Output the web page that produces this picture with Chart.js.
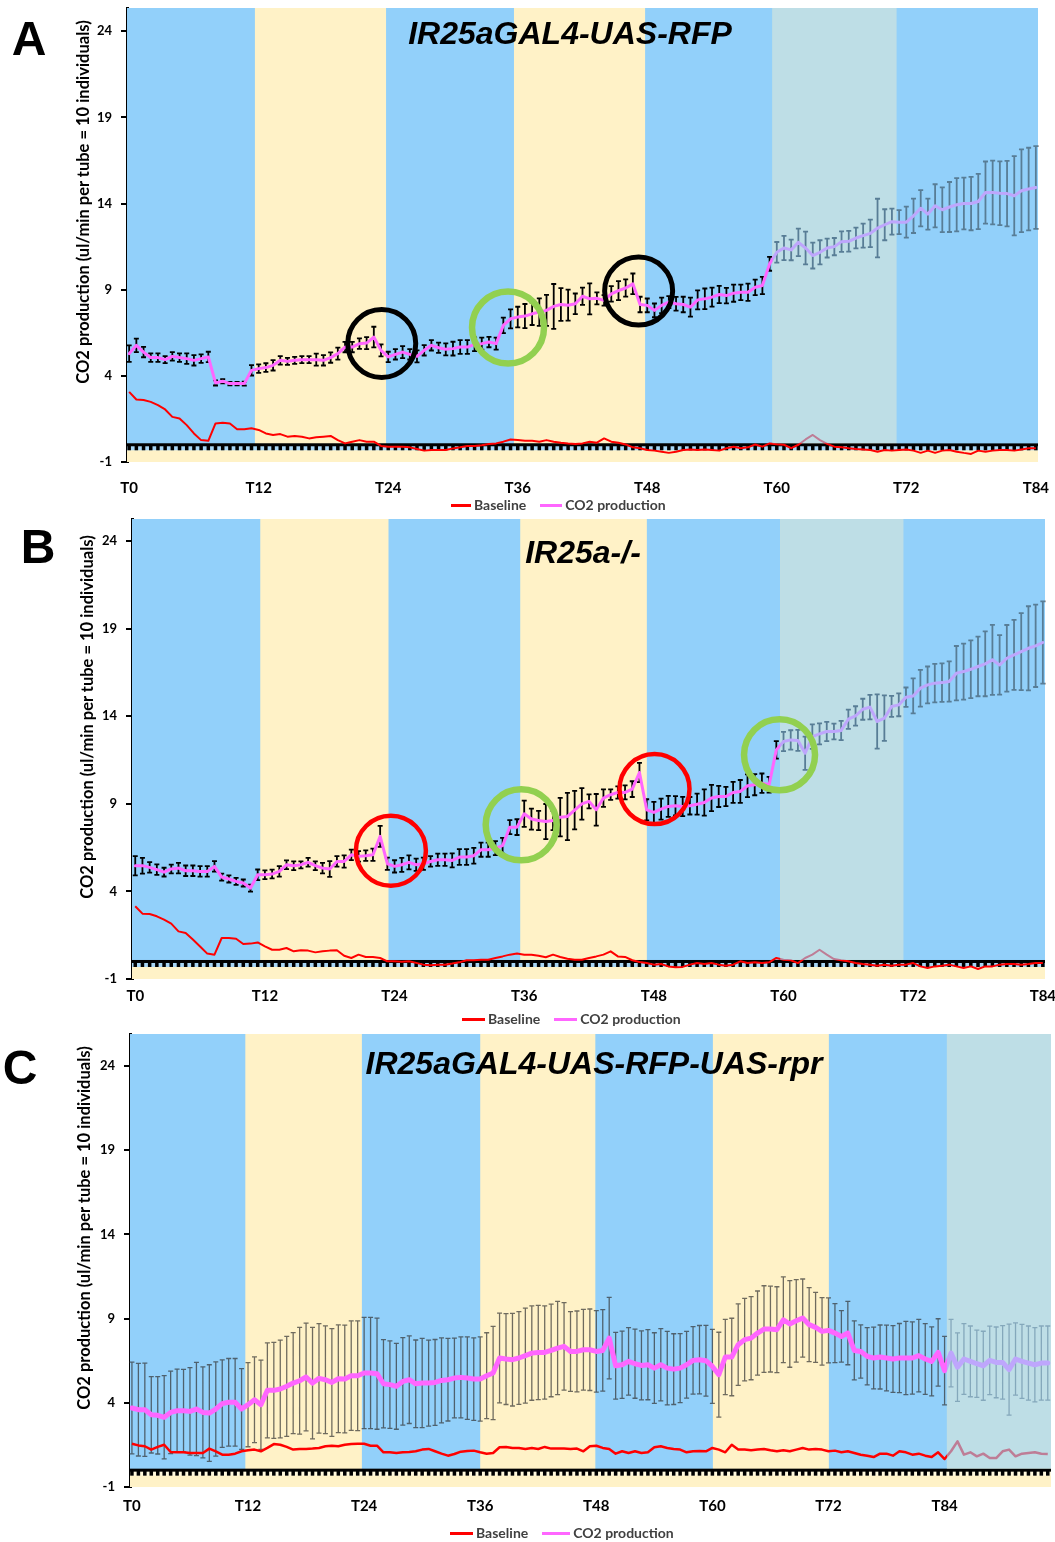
<!DOCTYPE html>
<html>
<head>
<meta charset="utf-8">
<script src="https://cdn.jsdelivr.net/npm/chart.js@4.4.1/dist/chart.umd.min.js"></script>
<style>
  body { margin: 0; background: #fff; width: 1055px; height: 1542px; position: relative; overflow: hidden; }
  canvas { position: absolute; left: 0; }
  .letter { position: absolute; font: bold 48px 'Liberation Sans', Arial, sans-serif; line-height: 1; transform: translate(-50%, -50%); }
  .title { position: absolute; font: italic bold 32px 'Liberation Sans', Arial, sans-serif; line-height: 1; white-space: nowrap; transform: translate(-50%, -50%); }
  .ytitle { position: absolute; font: bold 16.5px Lato, sans-serif; line-height: 1; white-space: nowrap; transform: translate(-50%, -50%) rotate(-90deg); }
  .legend { position: absolute; display: flex; align-items: center; font: bold 14px Lato, sans-serif; color: #404040; line-height: 1; white-space: nowrap; transform: translateY(-50%); }
  .legend i { display: inline-block; height: 3px; margin-right: 3px; }
  .legend span { margin-right: 14px; }
</style>
</head>
<body>
<canvas id="chartA" width="1055" height="500" style="top:0px"></canvas>
<canvas id="chartB" width="1055" height="500" style="top:512px"></canvas>
<canvas id="chartC" width="1055" height="500" style="top:1027px"></canvas>

<div class="letter" style="left:29px;top:39px">A</div>
<div class="letter" style="left:38px;top:547px">B</div>
<div class="letter" style="left:20px;top:1068px">C</div>

<div class="title" style="left:570px;top:33px">IR25aGAL4-UAS-RFP</div>
<div class="title" style="left:583px;top:552px">IR25a-/-</div>
<div class="title" style="left:594px;top:1063px">IR25aGAL4-UAS-RFP-UAS-rpr</div>

<div class="ytitle" style="left:83px;top:202px">CO2 production (ul/min per tube = 10 individuals)</div>
<div class="ytitle" style="left:87px;top:717px">CO2 production (ul/min per tube = 10 individuals)</div>
<div class="ytitle" style="left:84px;top:1228px">CO2 production (ul/min per tube = 10 individuals)</div>

<script>
// one reading every 40 min
const STEP_H = 2 / 3;
const X_TICKS = [0, 12, 24, 36, 48, 60, 72, 84];
const Y_TICKS = [-1, 4, 9, 14, 19, 24];
const SERIES = ['Baseline', 'CO2 production'];

// Panel A - IR25aGAL4-UAS-RFP
const A_CO2 = [
  5.29, 5.77, 5.38, 5.06, 5.06, 4.94, 5.13, 5.06, 5.0, 4.9,
  5.0, 5.1, 3.59, 3.69, 3.55, 3.55, 3.55, 4.32, 4.42, 4.48,
  4.61, 4.9, 4.84, 4.9, 4.94, 4.94, 4.94, 4.9, 5.06, 5.29,
  5.67, 5.67, 5.87, 5.9, 6.25, 5.48, 5.1, 5.25, 5.38, 5.25,
  5.13, 5.48, 5.77, 5.63, 5.54, 5.58, 5.67, 5.67, 5.83, 5.87,
  5.96, 5.87, 6.93, 7.31, 7.41, 7.47, 7.6, 7.7, 7.8, 8.03,
  8.14, 8.1, 8.18, 8.62, 8.47, 8.5, 8.38, 8.76, 8.95, 9.1,
  9.34, 8.14, 8.09, 7.8, 8.09, 8.28, 8.18, 8.14, 7.99, 8.41,
  8.47, 8.57, 8.72, 8.66, 8.8, 8.85, 8.85, 9.14, 9.24, 10.5,
  11.17, 11.42, 11.31, 11.75, 11.42, 10.98, 11.17, 11.42, 11.5, 11.79,
  11.81, 12.0, 12.14, 12.27, 12.58, 12.77, 12.95, 12.92, 12.92, 13.29,
  13.73, 13.39, 13.87, 13.64, 13.8, 13.93, 14.0, 14.0, 14.12, 14.64,
  14.64, 14.6, 14.58, 14.45, 14.74, 14.84, 14.93
];
const A_CO2_ERR = [
  0.48, 0.39, 0.3, 0.25, 0.25, 0.2, 0.25, 0.25, 0.3, 0.3,
  0.25, 0.3, 0.15, 0.12, 0.1, 0.1, 0.12, 0.3, 0.25, 0.25,
  0.3, 0.25, 0.2, 0.2, 0.2, 0.2, 0.35, 0.3, 0.3, 0.35,
  0.3, 0.3, 0.3, 0.35, 0.6, 0.35, 0.3, 0.3, 0.35, 0.3,
  0.35, 0.3, 0.3, 0.3, 0.35, 0.4, 0.4, 0.4, 0.4, 0.35,
  0.3, 0.35, 0.45, 0.55, 0.6, 0.7, 0.65, 0.8, 0.9, 1.3,
  0.95, 0.9, 0.6, 0.5, 0.9, 0.35, 0.3, 0.45, 0.55, 0.5,
  0.6, 0.45, 0.4, 0.4, 0.45, 0.35, 0.4, 0.45, 0.55, 0.55,
  0.6, 0.55, 0.5, 0.45, 0.5, 0.45, 0.5, 0.45, 0.5, 0.4,
  0.6, 0.7, 0.6, 0.8, 0.95, 0.75, 0.7, 0.55, 0.5, 0.6,
  0.6, 0.6, 0.7, 0.8, 1.7, 0.9, 0.75, 0.7, 0.9, 1.0,
  1.05, 0.9, 1.25, 1.3, 1.45, 1.55, 1.5, 1.55, 1.6, 1.8,
  1.85, 1.85, 1.9, 2.3, 2.4, 2.4, 2.4
];
const A_BASE = [
  3.07, 2.63, 2.6, 2.49, 2.3, 2.05, 1.62, 1.53, 1.14, 0.66,
  0.27, 0.23, 1.24, 1.28, 1.24, 0.9, 0.9, 0.96, 0.86, 0.66,
  0.57, 0.62, 0.47, 0.51, 0.47, 0.37, 0.43, 0.47, 0.51, 0.27,
  0.08, 0.18, 0.27, 0.18, 0.18, -0.07, -0.12, -0.12, -0.12, -0.15,
  -0.24, -0.34, -0.3, -0.3, -0.3, -0.21, -0.15, -0.07, -0.07, -0.03,
  0.05, 0.08, 0.18, 0.31, 0.27, 0.23, 0.23, 0.18, 0.27, 0.18,
  0.12, 0.08, 0.05, 0.08, 0.18, 0.12, 0.37, 0.18, 0.12, 0.02,
  -0.15, -0.2, -0.3, -0.34, -0.4, -0.47, -0.4, -0.3, -0.27, -0.3,
  -0.27, -0.3, -0.34, -0.2, -0.11, -0.2, -0.15, 0.02, -0.11, 0.08,
  0.03, 0.0, -0.2, 0.0, 0.31, 0.57, 0.27, 0.05, -0.11, -0.15,
  -0.2, -0.24, -0.27, -0.3, -0.4, -0.3, -0.34, -0.3, -0.27, -0.34,
  -0.47, -0.34, -0.47, -0.34, -0.3, -0.4, -0.47, -0.53, -0.34, -0.4,
  -0.34, -0.3, -0.3, -0.34, -0.27, -0.2, -0.2
];

// Panel B - IR25a-/-
const B_CO2 = [
  5.47, 5.47, 5.37, 5.24, 5.1, 5.28, 5.33, 5.18, 5.18, 5.14,
  5.14, 5.43, 4.82, 4.71, 4.57, 4.48, 4.19, 4.95, 4.95, 4.99,
  5.14, 5.52, 5.47, 5.52, 5.66, 5.47, 5.33, 5.28, 5.71, 5.71,
  6.09, 6.0, 6.04, 6.09, 7.14, 5.58, 5.43, 5.52, 5.66, 5.52,
  5.58, 5.71, 5.81, 5.81, 5.77, 5.96, 5.96, 6.04, 6.38, 6.38,
  6.47, 6.61, 7.67, 7.67, 8.43, 8.13, 8.05, 7.99, 8.05, 8.24,
  8.28, 8.64, 9.0, 9.14, 8.66, 9.33, 9.52, 9.65, 9.65, 9.84,
  10.79, 8.66, 8.51, 8.7, 8.85, 8.89, 8.85, 8.89, 8.98, 9.08,
  9.33, 9.42, 9.42, 9.65, 9.71, 10.03, 10.09, 10.18, 10.09, 12.08,
  12.56, 12.65, 12.62, 11.89, 12.84, 12.99, 13.13, 13.13, 13.19, 13.83,
  14.02, 14.4, 14.52, 13.7, 13.89, 14.56, 14.65, 15.09, 15.16, 15.6,
  15.79, 15.89, 15.92, 15.98, 16.46, 16.55, 16.68, 16.84, 16.99, 17.22,
  16.93, 17.31, 17.5, 17.69, 17.88, 18.02, 18.21
];
const B_CO2_ERR = [
  0.55, 0.45, 0.3, 0.3, 0.25, 0.25, 0.3, 0.3, 0.3, 0.3,
  0.3, 0.3, 0.2, 0.2, 0.2, 0.2, 0.2, 0.3, 0.25, 0.25,
  0.3, 0.25, 0.25, 0.2, 0.25, 0.25, 0.3, 0.45, 0.3, 0.35,
  0.3, 0.3, 0.3, 0.35, 0.6, 0.35, 0.35, 0.4, 0.4, 0.35,
  0.35, 0.3, 0.35, 0.35, 0.4, 0.45, 0.45, 0.45, 0.4, 0.4,
  0.4, 0.45, 0.4, 0.45, 0.75, 0.6, 0.55, 1.0, 0.55, 1.1,
  1.35, 1.1, 0.9, 0.4, 0.9, 0.5, 0.3, 0.35, 0.4, 0.45,
  0.55, 0.6, 0.6, 0.6, 0.6, 0.55, 0.55, 0.5, 0.6, 0.75,
  0.75, 0.6, 0.55, 0.6, 0.65, 0.65, 0.6, 0.55, 0.45, 0.5,
  0.55, 0.55, 0.6, 0.95, 0.7, 0.6, 0.55, 0.45, 0.55, 0.55,
  0.55, 0.6, 0.7, 1.55, 1.3, 0.6, 0.65, 0.55, 1.0, 1.05,
  1.05, 1.1, 1.1, 1.15, 1.55, 1.6, 1.65, 1.7, 1.85, 2.0,
  1.7, 1.9, 2.0, 2.2, 2.4, 2.35, 2.35
];
const B_BASE = [
  3.15, 2.73, 2.71, 2.58, 2.39, 2.16, 1.72, 1.63, 1.25, 0.86,
  0.45, 0.39, 1.34, 1.34, 1.3, 1.0, 1.02, 1.09, 0.86, 0.67,
  0.67, 0.77, 0.58, 0.64, 0.62, 0.52, 0.58, 0.62, 0.64, 0.33,
  0.2, 0.39, 0.26, 0.26, 0.2, 0.01, 0.01, -0.02, 0.01, -0.08,
  -0.18, -0.22, -0.18, -0.18, -0.12, -0.05, 0.07, 0.07, 0.1, 0.1,
  0.2, 0.29, 0.39, 0.45, 0.39, 0.39, 0.33, 0.24, 0.39, 0.26,
  0.16, 0.1, 0.1, 0.2, 0.29, 0.39, 0.58, 0.29, 0.26, 0.07,
  -0.03, -0.09, -0.18, -0.14, -0.28, -0.33, -0.31, -0.18, -0.09, -0.14,
  -0.09, -0.18, -0.24, -0.18, 0.01, -0.09, -0.05, -0.09, -0.05, 0.2,
  0.1, 0.07, -0.09, 0.2, 0.39, 0.67, 0.39, 0.14, 0.07, 0.01,
  -0.09, -0.14, -0.18, -0.24, -0.18, -0.24, -0.18, -0.18, -0.09, -0.28,
  -0.37, -0.28, -0.24, -0.18, -0.28, -0.37, -0.28, -0.43, -0.28, -0.28,
  -0.18, -0.14, -0.14, -0.18, -0.14, -0.09, -0.09
];

// Panel C - IR25aGAL4-UAS-RFP-UAS-rpr
const C_CO2 = [
  3.69, 3.59, 3.59, 3.29, 3.26, 3.14, 3.43, 3.53, 3.53, 3.49,
  3.63, 3.43, 3.39, 3.63, 3.95, 4.03, 4.03, 3.63, 3.89, 4.18,
  3.89, 4.74, 4.74, 4.82, 4.98, 5.17, 5.31, 5.53, 5.17, 5.45,
  5.37, 5.21, 5.43, 5.41, 5.61, 5.61, 5.77, 5.77, 5.73, 5.13,
  5.08, 4.98, 5.27, 5.37, 5.13, 5.17, 5.17, 5.21, 5.33, 5.37,
  5.47, 5.51, 5.47, 5.41, 5.41, 5.61, 5.77, 6.66, 6.6, 6.56,
  6.66, 6.8, 6.95, 6.99, 6.99, 7.11, 7.25, 7.35, 7.05, 7.05,
  7.15, 7.15, 7.05, 7.11, 7.84, 6.2, 6.26, 6.46, 6.32, 6.22,
  6.26, 6.06, 6.26, 6.06, 6.0, 6.06, 6.26, 6.52, 6.56, 6.5,
  6.16, 5.67, 6.72, 6.72, 7.45, 7.75, 7.84, 8.14, 8.38, 8.38,
  8.34, 8.93, 8.68, 8.87, 9.03, 8.64, 8.48, 8.24, 8.3, 8.14,
  7.94, 8.14, 7.11, 7.05, 6.76, 6.66, 6.72, 6.66, 6.6, 6.66,
  6.66, 6.66, 6.8, 6.6, 6.46, 6.99, 5.91, 6.95, 6.12, 6.6,
  6.46, 6.32, 6.2, 6.52, 6.4, 6.4, 5.97, 6.6, 6.46, 6.36,
  6.26, 6.36, 6.36
];
const C_CO2_ERR = [
  2.72, 2.75, 2.77, 2.27, 2.3, 2.47, 2.45, 2.47, 2.45, 2.6,
  2.77, 2.7, 2.87, 2.8, 2.6, 2.6, 2.6, 2.4, 2.5, 2.55,
  2.65, 2.82, 2.85, 2.9, 2.97, 3.0, 3.17, 3.2, 3.31, 3.25,
  3.2, 3.2, 3.2, 3.2, 3.25, 3.26, 3.3, 3.3, 3.3, 2.62,
  2.6, 2.55, 2.6, 2.6, 2.6, 2.65, 2.55, 2.55, 2.52, 2.45,
  2.37, 2.4, 2.45, 2.45, 2.5, 2.55, 2.77, 2.67, 2.7, 2.75,
  2.75, 2.82, 2.8, 2.8, 2.77, 2.75, 2.77, 2.6, 2.37, 2.4,
  2.4, 2.42, 2.42, 2.42, 2.42, 1.98, 2.0, 2.0, 2.05, 2.05,
  2.08, 2.1, 2.15, 2.18, 2.1, 2.05, 1.98, 2.0, 2.03, 2.1,
  2.2, 2.52, 2.23, 2.3, 2.42, 2.45, 2.47, 2.5, 2.57, 2.55,
  2.55, 2.55, 2.57, 2.45, 2.32, 2.2, 2.08, 2.0, 1.93, 1.75,
  1.53, 1.88, 1.75, 1.58, 1.7, 1.83, 1.9, 1.95, 1.98, 2.05,
  2.18, 2.15, 2.15, 2.1, 2.05, 2.0, 2.03, 2.0, 2.03, 2.1,
  2.1, 2.0, 2.05, 2.03, 2.1, 2.18, 2.7, 2.15, 2.2, 2.2,
  2.2, 2.2, 2.2
];
const C_BASE = [
  1.57, 1.47, 1.42, 1.22, 1.38, 1.51, 1.08, 1.06, 1.06, 1.02,
  1.02, 1.02, 1.28, 1.12, 0.92, 0.92, 0.98, 1.12, 1.18, 1.22,
  1.12, 1.32, 1.55, 1.51, 1.38, 1.22, 1.26, 1.26, 1.28, 1.32,
  1.42, 1.45, 1.42, 1.51, 1.55, 1.57, 1.57, 1.45, 1.45, 1.06,
  1.06, 1.02, 1.06, 1.08, 1.12, 1.22, 1.26, 1.12, 0.98, 0.86,
  0.96, 1.1, 1.14, 1.16, 1.06, 0.98, 1.02, 1.36, 1.38, 1.32,
  1.32, 1.26, 1.32, 1.26, 1.38, 1.28, 1.28, 1.28, 1.26, 1.28,
  1.12, 1.42, 1.45, 1.32, 1.26, 0.98, 1.12, 1.02, 1.12, 1.02,
  1.06, 1.36, 1.42, 1.32, 1.26, 1.22, 1.06, 1.12, 1.14, 1.12,
  1.32, 1.22, 1.06, 1.51, 1.22, 1.22, 1.18, 1.22, 1.26, 1.18,
  1.12, 1.18, 1.12, 1.22, 1.32, 1.22, 1.26, 1.22, 1.12, 1.16,
  1.06, 1.12, 1.02, 0.92, 0.86, 0.78, 0.98, 0.98, 0.86, 1.12,
  1.06, 0.92, 0.98, 0.86, 0.78, 1.06, 0.66, 1.12, 1.71, 0.92,
  1.06, 0.82, 0.98, 0.72, 0.72, 1.12, 1.22, 0.82, 0.98, 1.02,
  1.06, 0.98, 0.96
];

const BLUE = '#92d0fa';
const YELLOW = '#fff2c7';
const OVERLAY = 'rgba(146, 208, 250, 0.6)';
const PINK = '#ff66ff';
const RED = '#ff0000';
const GREEN = '#92d050';

const panels = [
  {
    id: 'chartA', co2: A_CO2, err: A_CO2_ERR, base: A_BASE,
    xMin: -0.2, xMax: 84.2, yMax: 25.35, yWidth: 127, padTop: 8, padRight: 17, xHeight: 38, xPad: 17,
    blue: [[-0.2, 11.65], [23.8, 35.65], [47.8, 59.6], [71.1, 84.2]], overlay: [59.6, 84.2],
    co2Width: 3, baseWidth: 2, errColor: '#000', errWidth: 1.8, strip: '#a8d6f5',
    circles: [
      { h: 23.4, v: 5.88, r: 34, w: 5, color: '#000' },
      { h: 35.1, v: 6.8, r: 36, w: 6.5, color: GREEN },
      { h: 47.2, v: 8.92, r: 34, w: 5, color: '#000' }
    ],
    legend: { left: 451, top: 505, lines: [20, 22] }
  },
  {
    id: 'chartB', co2: B_CO2, err: B_CO2_ERR, base: B_BASE,
    xMin: -0.3, xMax: 84.2, yMax: 25.26, yWidth: 132, padTop: 7, padRight: 10, xHeight: 33, xPad: 8,
    blue: [[-0.3, 11.57], [23.44, 35.63], [47.35, 59.69], [71.1, 84.2]], overlay: [59.69, 84.2],
    co2Width: 3, baseWidth: 2, errColor: '#000', errWidth: 1.8, strip: '#a8d6f5',
    circles: [
      { h: 23.66, v: 6.32, r: 35, w: 4.5, color: RED },
      { h: 35.72, v: 7.8, r: 35.5, w: 6.5, color: GREEN },
      { h: 48.06, v: 9.84, r: 35, w: 4.5, color: RED },
      { h: 59.63, v: 11.8, r: 35.5, w: 6.5, color: GREEN }
    ],
    legend: { left: 462, top: 1019, lines: [23, 23] }
  },
  {
    id: 'chartC', co2: C_CO2, err: C_CO2_ERR, base: C_BASE,
    xMin: -0.2, xMax: 95.0, yMax: 25.9, yWidth: 130, padTop: 7, padRight: 4, xHeight: 40, xPad: 10,
    blue: [[-0.2, 11.72], [23.77, 36.0], [47.9, 60.05], [72.04, 84.24]], overlay: [84.24, 95.0],
    co2Width: 5, baseWidth: 2.5, errColor: 'rgba(50, 50, 50, 0.7)', errWidth: 1.3, strip: '#fff8dc',
    circles: [],
    legend: { left: 450, top: 1533, lines: [23, 28] }
  }
];

// background phases, zero axis, error bars, grey overlay, circles
const panelPlugin = {
  id: 'panel',
  beforeDatasetsDraw(chart, args, opts) {
    const { ctx, chartArea: a, scales: { x, y } } = chart;
    const y0 = y.getPixelForValue(0);
    ctx.save();
    ctx.fillStyle = YELLOW;
    ctx.fillRect(a.left, a.top, a.width, a.height);
    ctx.fillStyle = BLUE;
    opts.blue.forEach(([s, e]) => {
      const xs = x.getPixelForValue(s), xe = x.getPixelForValue(e);
      ctx.fillRect(xs, a.top, xe - xs, y0 - a.top);
    });

    // horizontal axis at 0 with dense tick marks
    ctx.fillStyle = opts.strip;
    ctx.fillRect(a.left, y0, a.width, 5.5);
    ctx.fillStyle = '#000';
    ctx.fillRect(a.left, y0 - 1.5, a.width, 3);
    opts.co2.forEach((v, i) => {
      const px = x.getPixelForValue(i * STEP_H);
      ctx.fillRect(px - 1.75, y0, 3.5, 5.5);
    });

    // error bars
    ctx.strokeStyle = opts.errColor;
    ctx.lineWidth = opts.errWidth;
    ctx.beginPath();
    opts.co2.forEach((v, i) => {
      const e = opts.err[i];
      if (e === undefined) return;
      const px = x.getPixelForValue(i * STEP_H);
      const top = y.getPixelForValue(v + e), bot = y.getPixelForValue(v - e);
      ctx.moveTo(px, top); ctx.lineTo(px, bot);
      ctx.moveTo(px - 2.5, top); ctx.lineTo(px + 2.5, top);
      ctx.moveTo(px - 2.5, bot); ctx.lineTo(px + 2.5, bot);
    });
    ctx.stroke();
    ctx.restore();
  },
  afterDatasetsDraw(chart, args, opts) {
    const { ctx, chartArea: a, scales: { x, y } } = chart;
    const y0 = y.getPixelForValue(0);
    ctx.save();
    const [s, e] = opts.overlay;
    const xs = x.getPixelForValue(s), xe = x.getPixelForValue(e);
    ctx.fillStyle = OVERLAY;
    ctx.fillRect(xs, a.top, xe - xs, y0 - 1.5 - a.top);

    opts.circles.forEach(c => {
      ctx.beginPath();
      ctx.strokeStyle = c.color;
      ctx.lineWidth = c.w;
      ctx.arc(x.getPixelForValue(c.h), y.getPixelForValue(c.v), c.r, 0, Math.PI * 2);
      ctx.stroke();
    });
    ctx.restore();
  }
};

function makePanel(p) {
  const pts = vals => vals.map((v, i) => ({ x: i * STEP_H, y: v }));
  new Chart(document.getElementById(p.id), {
    type: 'line',
    data: {
      datasets: [
        {
          label: SERIES[1], data: pts(p.co2), borderColor: PINK, borderWidth: p.co2Width,
          pointRadius: 0, tension: 0, borderJoinStyle: 'round', borderCapStyle: 'round'
        },
        {
          label: SERIES[0], data: pts(p.base), borderColor: RED, borderWidth: p.baseWidth,
          pointRadius: 0, tension: 0, borderJoinStyle: 'round'
        }
      ]
    },
    options: {
      responsive: false,
      animation: false,
      events: [],
      layout: { padding: { top: p.padTop, right: p.padRight, left: 0, bottom: 0 } },
      plugins: {
        legend: { display: false },
        tooltip: { enabled: false },
        panel: p
      },
      scales: {
        x: {
          type: 'linear',
          min: p.xMin,
          max: p.xMax,
          afterBuildTicks: s => { s.ticks = X_TICKS.map(v => ({ value: v })); },
          afterFit: s => {
            s.height = p.xHeight;
            s.paddingLeft = 0;
            s.paddingRight = 0;
          },
          grid: { display: false, drawTicks: false },
          border: { display: false },
          ticks: {
            autoSkip: false, maxRotation: 0, padding: p.xPad, color: '#000',
            font: { family: 'Lato', weight: 'bold', size: 15 },
            callback: v => 'T' + v
          }
        },
        y: {
          min: -1,
          max: p.yMax,
          afterBuildTicks: s => { s.ticks = Y_TICKS.map(v => ({ value: v })); },
          afterFit: s => {
            s.width = p.yWidth;
            // let the layout padding alone decide the top of the plot
            s.paddingTop = 0;
            s.paddingBottom = 0;
          },
          grid: { drawOnChartArea: false, color: '#000', lineWidth: 2, tickLength: 6 },
          border: { color: '#000', width: 3 },
          ticks: {
            padding: 9, color: '#000',
            font: { family: 'Lato', weight: 'bold', size: 13 }
          }
        }
      }
    },
    plugins: [panelPlugin]
  });

  // legend under each panel
  const lg = document.createElement('div');
  lg.className = 'legend';
  lg.style.left = p.legend.left + 'px';
  lg.style.top = p.legend.top + 'px';
  [[SERIES[0], RED], [SERIES[1], PINK]].forEach(([label, color], k) => {
    const line = document.createElement('i');
    line.style.width = p.legend.lines[k] + 'px';
    line.style.background = color;
    const txt = document.createElement('span');
    txt.textContent = label;
    lg.appendChild(line);
    lg.appendChild(txt);
  });
  document.body.appendChild(lg);
}

panels.forEach(makePanel);
</script>
</body>
</html>
